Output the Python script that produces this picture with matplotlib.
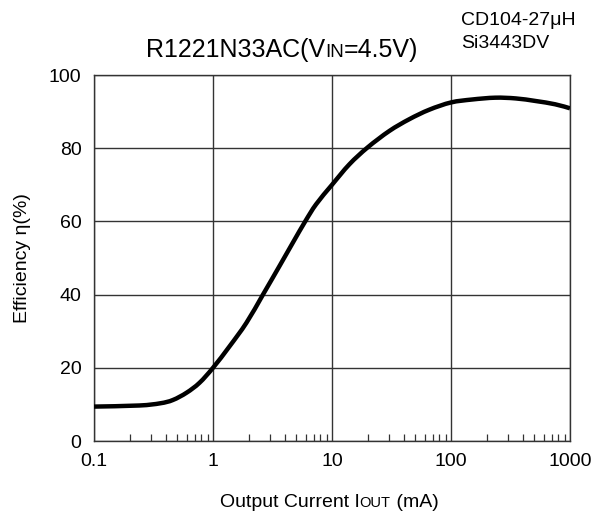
import matplotlib
matplotlib.use("Agg")
import numpy as np
import matplotlib.pyplot as plt
from matplotlib.path import Path
from matplotlib.patches import PathPatch
from matplotlib.ticker import LogLocator, FixedLocator, NullFormatter

plt.rcParams['font.family'] = ['Liberation Sans', 'DejaVu Sans']

# efficiency curve
iout = [0.1, 0.24, 0.36, 0.46, 0.6, 0.77, 1.0, 1.38, 1.91, 2.63, 3.62, 4.69,
        5.98, 7.36, 10, 14, 19.9, 30.3, 44.5, 65.5, 100, 150, 235,
        350, 513, 750, 1000]
eff = [9.4, 9.7, 10.3, 11.2, 13.2, 15.9, 20, 25.9, 32.3, 40, 47.8, 54.2,
       60.1, 64.7, 70, 75.6, 80.2, 84.7, 87.9, 90.5, 92.5, 93.3, 93.8,
       93.6, 92.9, 92.0, 90.9]

xticks = [0.1, 1, 10, 100, 1000]
xticklabels = ['0.1', '1', '10', '100', '1000']
yticks = [0, 20, 40, 60, 80, 100]

W, H = 595, 512
fig = plt.figure(figsize=(W / 100, H / 100), dpi=100)
ax = fig.add_axes([94 / W, 1 - 441 / H, 476 / W, 366 / H])

ax.set_xscale('log')
ax.set_xlim(0.1, 1000)
ax.set_ylim(0, 100)


# smooth line through the read points: Catmull-Rom -> bezier segments,
# built in log-x space so the log transform keeps it smooth
def smooth_path(xs, ys):
    lx = np.log10(xs)
    ys = np.asarray(ys, float)
    # scale so that both directions count alike (axes is ~476 x 366 px)
    px = lx * 476 / 4.0
    py = ys * 366 / 100.0
    pts = np.column_stack([px, py])
    n = len(pts)
    verts = [pts[0]]
    codes = [Path.MOVETO]
    for i in range(n - 1):
        p0 = pts[max(i - 1, 0)]
        p1 = pts[i]
        p2 = pts[i + 1]
        p3 = pts[min(i + 2, n - 1)]
        c1 = p1 + (p2 - p0) / 6.0
        c2 = p2 - (p3 - p1) / 6.0
        verts += [c1, c2, p2]
        codes += [Path.CURVE4] * 3
    v = np.array(verts)
    v[:, 0] = 10 ** (v[:, 0] * 4.0 / 476)
    v[:, 1] = v[:, 1] * 100.0 / 366
    return Path(v, codes)


ax.add_patch(PathPatch(smooth_path(iout, eff), fill=False, edgecolor='black',
                       lw=3.2, joinstyle='round', capstyle='butt', zorder=3))

ax.xaxis.set_major_locator(FixedLocator(xticks))
ax.set_xticklabels(xticklabels)
ax.xaxis.set_minor_locator(LogLocator(base=10, subs=range(2, 10)))
ax.xaxis.set_minor_formatter(NullFormatter())
ax.set_yticks(yticks)

ax.grid(True, which='major', color='#333333', lw=1.0)
ax.tick_params(which='major', length=0, labelsize=14, pad=9)
ax.tick_params(axis='x', which='minor', direction='in', length=5, width=0.9, color='#333333')
for s in ax.spines.values():
    s.set_linewidth(1.0)
    s.set_color('#333333')

ax.set_ylabel('Efficiency η(%)', fontsize=14, labelpad=13)

renderer = fig.canvas.get_renderer()


def pieces(parts, x, y, center=False):
    # parts: list of (text, size); x, y in pixels (y from top, baseline)
    widths = []
    for txt, sz in parts:
        t = fig.text(0, 0, txt, fontsize=sz)
        widths.append(t.get_window_extent(renderer).width)
        t.remove()
    if center:
        x -= sum(widths) / 2
    for (txt, sz), w in zip(parts, widths):
        fig.text(x / W, 1 - y / H, txt, fontsize=sz, va='baseline')
        x += w


pieces([('R1221N33AC(V', 18), ('IN', 13.5), ('=4.5V)', 18)], 282, 57, center=True)
fig.text(461 / W, 1 - 25 / H, 'CD104-27μH', fontsize=14, va='baseline')
fig.text(461 / W, 1 - 48 / H, 'Si3443DV', fontsize=14, va='baseline')
pieces([('Output Current I', 14), ('OUT', 10.5), (' (mA)', 14)], 329, 507, center=True)

fig.savefig('out.png', dpi=100)
